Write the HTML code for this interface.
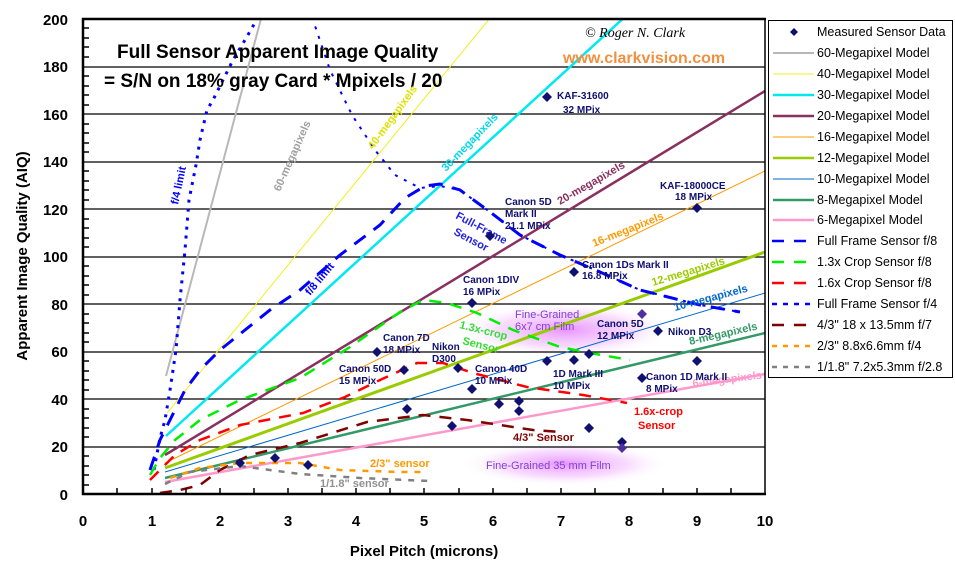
<!DOCTYPE html>
<html><head><meta charset="utf-8"><style>
html,body{margin:0;padding:0;background:#fff;}
svg{display:block;font-family:"Liberation Sans",Arial,sans-serif;}
</style></head><body>
<svg width="955" height="576" viewBox="0 0 955 576" xmlns="http://www.w3.org/2000/svg">
<defs>
<radialGradient id="glow" cx="50%" cy="50%" r="50%">
<stop offset="0%" stop-color="#e070ff" stop-opacity="0.75"/>
<stop offset="60%" stop-color="#f0b0ff" stop-opacity="0.45"/>
<stop offset="100%" stop-color="#ffffff" stop-opacity="0"/>
</radialGradient>
<clipPath id="pc"><rect x="83" y="19" width="682" height="475"/></clipPath>
</defs>
<rect width="955" height="576" fill="#fff"/>
<ellipse cx="565" cy="330" rx="110" ry="28" fill="url(#glow)"/>
<ellipse cx="565" cy="464" rx="105" ry="22" fill="url(#glow)"/>
<!-- grid -->
<g stroke="#000" stroke-width="1.3">
<line x1="83" y1="67" x2="765" y2="67"/><line x1="83" y1="114" x2="765" y2="114"/>
<line x1="83" y1="162" x2="765" y2="162"/><line x1="83" y1="209" x2="765" y2="209"/>
<line x1="83" y1="257" x2="765" y2="257"/><line x1="83" y1="304" x2="765" y2="304"/>
<line x1="83" y1="352" x2="765" y2="352"/><line x1="83" y1="399" x2="765" y2="399"/>
<line x1="83" y1="447" x2="765" y2="447"/>
</g>
<g clip-path="url(#pc)" fill="none">
<line x1="166" y1="376" x2="262" y2="15" stroke="#b8b8b8" stroke-width="2"/>
<line x1="167" y1="413" x2="495" y2="12" stroke="#f0f020" stroke-width="1"/>
<line x1="166" y1="436" x2="628" y2="14" stroke="#00e8f0" stroke-width="2.5"/>
<line x1="165" y1="455" x2="765" y2="91" stroke="#8a3060" stroke-width="2.5"/>
<line x1="165" y1="463" x2="765" y2="171" stroke="#ff9900" stroke-width="1"/>
<line x1="165" y1="468" x2="765" y2="252" stroke="#99cc00" stroke-width="3"/>
<line x1="165" y1="472" x2="765" y2="293" stroke="#0066cc" stroke-width="1"/>
<line x1="165" y1="478" x2="765" y2="333" stroke="#339966" stroke-width="2.5"/>
<line x1="165" y1="482" x2="765" y2="374" stroke="#ff99cc" stroke-width="2.5"/>
<!-- full frame f/4 dotted -->
<polyline points="154,470 160,438 165,420 170,390 176,350 180,300 185,250 189,200 196,165 200,140 207,110 213,100 233,60 245,40 260,14" stroke="#0000ff" stroke-width="3" stroke-dasharray="3,6"/>
<polyline points="312,17 330,70 352,115 375,150 395,175 420,188 440,186 460,190 490,212 520,235 560,255 600,272 640,290 700,305 740,312" stroke="#0000ff" stroke-width="2" stroke-dasharray="3,7"/>
<!-- full frame f/8 dashed -->
<polyline points="150,470 160,440 170,420 185,390 200,370 220,350 245,330 270,310 300,290 340,255 380,225 405,198 425,186 440,184 460,190 490,212 520,235 560,255 600,272 640,290 700,305 740,312" stroke="#0000ff" stroke-width="3" stroke-dasharray="14,10"/>
<!-- 1.3x green -->
<polyline points="150,475 160,458 175,440 200,420 240,400 300,378 350,347 400,312 423,300 447,303 477,313 513,330 560,347 590,353 630,360" stroke="#00ee00" stroke-width="2.5" stroke-dasharray="12,9"/>
<!-- 1.6x red -->
<polyline points="150,480 160,470 175,455 200,440 240,425 303,413 345,397 380,380 417,363 443,363 473,373 527,387 583,395 627,403" stroke="#ff0000" stroke-width="2.5" stroke-dasharray="12,9"/>
<!-- 4/3 brown -->
<polyline points="160,493 180,490 200,485 220,470 250,455 300,443 367,422 423,415 467,420 533,430 560,432" stroke="#800000" stroke-width="2.5" stroke-dasharray="12,9"/>
<!-- 2/3 orange -->
<polyline points="170,478 200,468 240,463 300,463 340,470 400,472 425,472" stroke="#ff9900" stroke-width="2.5" stroke-dasharray="6,7"/>
<!-- 1/1.8 gray -->
<polyline points="165,484 190,472 240,466 300,474 360,478 430,481" stroke="#808080" stroke-width="2.5" stroke-dasharray="6,7"/>
</g>
<!-- axes -->
<g stroke="#000" stroke-width="2.5" fill="none">
<line x1="83" y1="18" x2="83" y2="495"/><line x1="82" y1="494" x2="766" y2="494"/>
<line x1="82" y1="19" x2="766" y2="19"/>
</g>
<line x1="765" y1="19" x2="765" y2="494" stroke="#000" stroke-width="1.5"/>
<g stroke="#000" stroke-width="1.5">
<path d="M83,28h6M83,38h6M83,47h6M83,57h6M83,76h6M83,86h6M83,95h6M83,105h6M83,124h6M83,133h6M83,143h6M83,152h6M83,171h6M83,181h6M83,190h6M83,200h6M83,219h6M83,228h6M83,238h6M83,247h6M83,266h6M83,276h6M83,285h6M83,295h6M83,314h6M83,323h6M83,333h6M83,342h6M83,361h6M83,371h6M83,380h6M83,390h6M83,409h6M83,418h6M83,428h6M83,437h6M83,456h6M83,466h6M83,475h6M83,485h6"/>
<path d="M117,494v-6M152,494v-6M186,494v-6M220,494v-6M254,494v-6M288,494v-6M322,494v-6M356,494v-6M390,494v-6M424,494v-6M459,494v-6M493,494v-6M527,494v-6M561,494v-6M595,494v-6M629,494v-6M663,494v-6M697,494v-6M731,494v-6"/>
</g>
<!-- y labels -->
<g font-size="15" font-weight="bold" text-anchor="end">
<text x="68" y="25">200</text><text x="68" y="72">180</text><text x="68" y="120">160</text>
<text x="68" y="167">140</text><text x="68" y="215">120</text><text x="68" y="262">100</text>
<text x="68" y="310">80</text><text x="68" y="357">60</text><text x="68" y="405">40</text>
<text x="68" y="452">20</text><text x="68" y="500">0</text>
</g>
<g font-size="15" font-weight="bold" text-anchor="middle">
<text x="83" y="526">0</text><text x="152" y="526">1</text><text x="220" y="526">2</text>
<text x="288" y="526">3</text><text x="356" y="526">4</text><text x="424" y="526">5</text>
<text x="493" y="526">6</text><text x="561" y="526">7</text><text x="629" y="526">8</text>
<text x="697" y="526">9</text><text x="765" y="526">10</text>
<text x="424" y="556" font-size="15">Pixel Pitch (microns)</text>
<text transform="translate(27,256) rotate(-90)" font-size="15">Apparent Image Quality (AIQ)</text>
</g>
<!-- title -->
<g font-weight="bold" font-size="19">
<text x="117" y="58">Full Sensor Apparent Image Quality</text>
<text x="104" y="87">= S/N on 18% gray Card * Mpixels / 20</text>
</g>
<text x="585" y="37" font-size="14" font-style="italic" font-family="Liberation Serif,serif">© Roger N. Clark</text>
<text x="563" y="63" font-size="16" font-weight="bold" fill="#f09040">www.clarkvision.com</text>
<!-- rotated labels -->
<g font-size="11" font-weight="bold">
<text transform="translate(280,192) rotate(-66)" fill="#a0a0a0">60-megapixels</text>
<text transform="translate(373,150) rotate(-54)" fill="#e0e000">40-megapixels</text>
<text transform="translate(446,172) rotate(-46)" fill="#00d8e8">30-megapixels</text>
<text transform="translate(560,205) rotate(-30)" fill="#8a3060">20-megapixels</text>
<text transform="translate(594,247) rotate(-22)" fill="#ff9900">16-megapixels</text>
<text transform="translate(653,286) rotate(-17)" fill="#99cc00">12-megapixels</text>
<text transform="translate(675,311) rotate(-15)" fill="#0066cc">10-megapixels</text>
<text transform="translate(690,345) rotate(-13)" fill="#339966">8-megapixels</text>
<text transform="translate(693,387) rotate(-7)" fill="#ff99cc">6-megapixels</text>
<text transform="translate(178,205) rotate(-78)" fill="#0000ff">f/4 limit</text>
<text transform="translate(310,296) rotate(-50)" fill="#0000ff">f/8 limit</text>
<text transform="translate(455,218) rotate(28)" fill="#2020e0">Full-Frame</text>
<text transform="translate(453,234) rotate(28)" fill="#2020e0">Sensor</text>
<text transform="translate(459,328) rotate(14)" fill="#33dd33">1.3x-crop</text>
<text transform="translate(462,344) rotate(14)" fill="#33dd33">Sensor</text>
<text x="634" y="415" fill="#ff0000">1.6x-crop</text><text x="638" y="429" fill="#ff0000">Sensor</text>
<text x="513" y="441" fill="#800000">4/3" Sensor</text>
<text x="370" y="467" fill="#ff9900">2/3" sensor</text>
<text x="320" y="487" fill="#909090">1/1.8" sensor</text>
<text x="515" y="318" fill="#8040d0" font-weight="normal">Fine-Grained</text>
<text x="515" y="330" fill="#8040d0" font-weight="normal">6x7 cm Film</text>
<text x="486" y="469" fill="#8040d0" font-weight="normal">Fine-Grained 35 mm Film</text>
</g>
<g font-size="10" font-weight="bold" fill="#101070">
<text x="557" y="99">KAF-31600</text><text x="563" y="113">32 MPix</text>
<text x="660" y="189">KAF-18000CE</text><text x="675" y="200">18 MPix</text>
<text x="505" y="205">Canon 5D</text><text x="505" y="217">Mark II</text><text x="505" y="229">21.1 MPix</text>
<text x="582" y="268">Canon 1Ds Mark II</text><text x="582" y="279">16.8 MPix</text>
<text x="463" y="283">Canon 1DIV</text><text x="463" y="295">16 MPix</text>
<text x="597" y="327">Canon 5D</text><text x="597" y="339">12 MPix</text>
<text x="668" y="335">Nikon D3</text>
<text x="383" y="341">Canon 7D</text><text x="383" y="353">18 MPix</text>
<text x="432" y="350">Nikon</text><text x="432" y="362">D300</text>
<text x="339" y="372">Canon 50D</text><text x="339" y="384">15 MPix</text>
<text x="475" y="372">Canon 40D</text><text x="475" y="384">10 MPix</text>
<text x="553" y="377">1D Mark III</text><text x="553" y="389">10 MPix</text>
<text x="646" y="380">Canon 1D Mark II</text><text x="646" y="392">8 MPix</text>
</g>
<!-- diamonds -->
<g fill="#101070">
<path id="d" d="M0,-5L5,0L0,5L-5,0Z" transform="translate(547,97)"/>
<path d="M0,-5L5,0L0,5L-5,0Z" transform="translate(697,208)"/>
<path d="M0,-5L5,0L0,5L-5,0Z" transform="translate(490,236)"/>
<path d="M0,-5L5,0L0,5L-5,0Z" transform="translate(574,272)"/>
<path d="M0,-5L5,0L0,5L-5,0Z" transform="translate(472,303)"/>
<path d="M0,-5L5,0L0,5L-5,0Z" transform="translate(642,314)" fill="#5030a0"/>
<path d="M0,-5L5,0L0,5L-5,0Z" transform="translate(658,331)"/>
<path d="M0,-5L5,0L0,5L-5,0Z" transform="translate(377,352)"/>
<path d="M0,-5L5,0L0,5L-5,0Z" transform="translate(404,370)"/>
<path d="M0,-5L5,0L0,5L-5,0Z" transform="translate(458,368)"/>
<path d="M0,-5L5,0L0,5L-5,0Z" transform="translate(472,389)"/>
<path d="M0,-5L5,0L0,5L-5,0Z" transform="translate(407,409)"/>
<path d="M0,-5L5,0L0,5L-5,0Z" transform="translate(452,426)"/>
<path d="M0,-5L5,0L0,5L-5,0Z" transform="translate(499,404)"/>
<path d="M0,-5L5,0L0,5L-5,0Z" transform="translate(519,401)"/>
<path d="M0,-5L5,0L0,5L-5,0Z" transform="translate(519,411)"/>
<path d="M0,-5L5,0L0,5L-5,0Z" transform="translate(547,361)"/>
<path d="M0,-5L5,0L0,5L-5,0Z" transform="translate(574,360)"/>
<path d="M0,-5L5,0L0,5L-5,0Z" transform="translate(589,354)"/>
<path d="M0,-5L5,0L0,5L-5,0Z" transform="translate(589,428)"/>
<path d="M0,-5L5,0L0,5L-5,0Z" transform="translate(622,442)"/>
<path d="M0,-5L5,0L0,5L-5,0Z" transform="translate(622,448)" fill="#5030a0"/>
<path d="M0,-5L5,0L0,5L-5,0Z" transform="translate(642,378)"/>
<path d="M0,-5L5,0L0,5L-5,0Z" transform="translate(697,361)"/>
<path d="M0,-5L5,0L0,5L-5,0Z" transform="translate(240,463)"/>
<path d="M0,-5L5,0L0,5L-5,0Z" transform="translate(275,458)"/>
<path d="M0,-5L5,0L0,5L-5,0Z" transform="translate(308,465)"/>
</g>
<!-- legend -->
<rect x="768.5" y="20.5" width="184" height="357" fill="#fff" stroke="#000" stroke-width="1"/>
<g fill="none">
<path d="M0,-4L4,0L0,4L-4,0Z" transform="translate(794,32)" fill="#101070"/>
<line x1="773" y1="53" x2="814" y2="53" stroke="#b8b8b8" stroke-width="2"/>
<line x1="773" y1="74" x2="814" y2="74" stroke="#f0f020" stroke-width="1"/>
<line x1="773" y1="95" x2="814" y2="95" stroke="#00e8f0" stroke-width="2.5"/>
<line x1="773" y1="116" x2="814" y2="116" stroke="#8a3060" stroke-width="2.5"/>
<line x1="773" y1="137" x2="814" y2="137" stroke="#ff9900" stroke-width="1"/>
<line x1="773" y1="158" x2="814" y2="158" stroke="#99cc00" stroke-width="2.5"/>
<line x1="773" y1="179" x2="814" y2="179" stroke="#0066cc" stroke-width="1"/>
<line x1="773" y1="200" x2="814" y2="200" stroke="#339966" stroke-width="2.5"/>
<line x1="773" y1="220" x2="814" y2="220" stroke="#ff99cc" stroke-width="2.5"/>
<line x1="772" y1="241" x2="814" y2="241" stroke="#0000ff" stroke-width="2.5" stroke-dasharray="12,10"/>
<line x1="772" y1="262" x2="814" y2="262" stroke="#00ee00" stroke-width="2.5" stroke-dasharray="12,10"/>
<line x1="772" y1="283" x2="814" y2="283" stroke="#ff0000" stroke-width="2.5" stroke-dasharray="12,10"/>
<line x1="772" y1="304" x2="814" y2="304" stroke="#0000ff" stroke-width="2.5" stroke-dasharray="5,6"/>
<line x1="772" y1="325" x2="814" y2="325" stroke="#800000" stroke-width="2.5" stroke-dasharray="12,10"/>
<line x1="772" y1="346" x2="814" y2="346" stroke="#ff9900" stroke-width="2.5" stroke-dasharray="5,6"/>
<line x1="772" y1="367" x2="814" y2="367" stroke="#808080" stroke-width="2.5" stroke-dasharray="5,6"/>
</g>
<g font-size="12.5" fill="#000">
<text x="817" y="36">Measured Sensor Data</text>
<text x="817" y="57">60-Megapixel Model</text>
<text x="817" y="78">40-Megapixel Model</text>
<text x="817" y="99">30-Megapixel Model</text>
<text x="817" y="120">20-Megapixel Model</text>
<text x="817" y="141">16-Megapixel Model</text>
<text x="817" y="162">12-Megapixel Model</text>
<text x="817" y="183">10-Megapixel Model</text>
<text x="817" y="204">8-Megapixel Model</text>
<text x="817" y="224">6-Megapixel Model</text>
<text x="817" y="245">Full Frame Sensor f/8</text>
<text x="817" y="266">1.3x Crop Sensor f/8</text>
<text x="817" y="287">1.6x Crop Sensor f/8</text>
<text x="817" y="308">Full Frame Sensor f/4</text>
<text x="817" y="329">4/3" 18 x 13.5mm f/7</text>
<text x="817" y="350">2/3" 8.8x6.6mm f/4</text>
<text x="817" y="371">1/1.8" 7.2x5.3mm f/2.8</text>
</g>
</svg>
</body></html>
